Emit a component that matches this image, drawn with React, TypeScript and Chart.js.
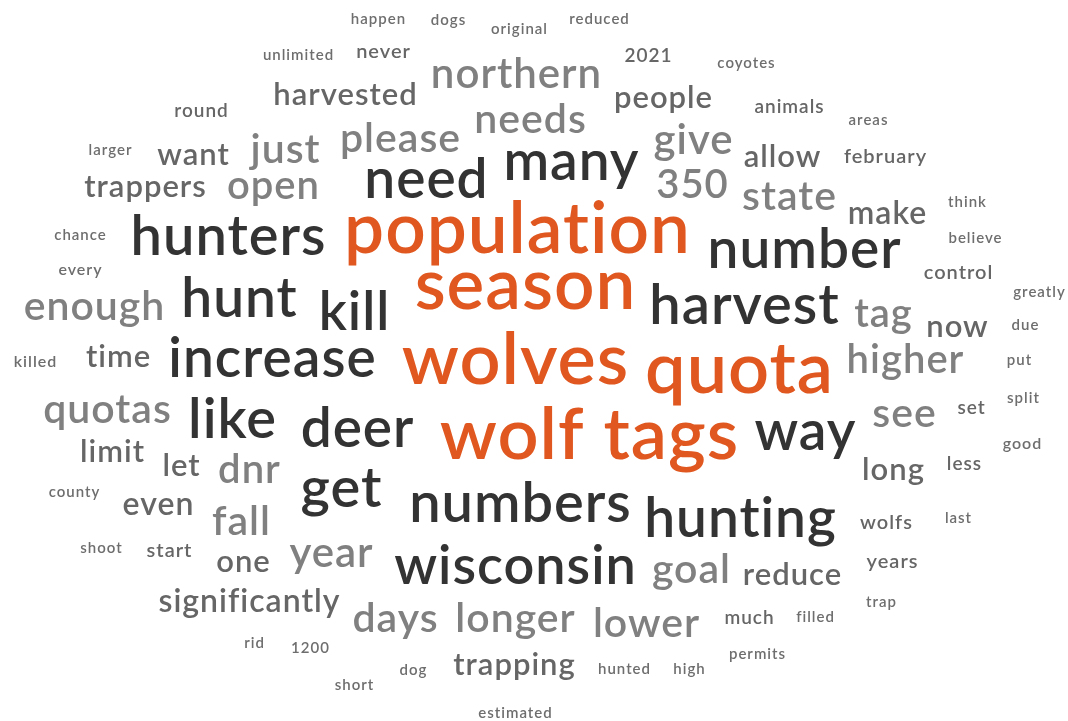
import React, { useEffect, useRef } from "react";
import { Chart, registerables } from "chart.js";

Chart.register(...registerables);

// Word cloud data: word, horizontal position, vertical (baseline) position, weight, colour group
const words = [
  "happen", "dogs", "original", "reduced", "unlimited", "never", "2021", "coyotes",
  "northern", "harvested", "round", "people", "animals", "areas", "needs", "please",
  "just", "want", "larger", "give", "allow", "february", "many", "need",
  "trappers", "open", "350", "state", "think", "make", "chance", "hunters",
  "population", "believe", "number", "every", "control", "enough", "hunt", "kill",
  "season", "harvest", "greatly", "tag", "now", "due", "killed", "time",
  "increase", "wolves", "quota", "higher", "put", "quotas", "like", "deer",
  "split", "set", "see", "way", "wolf tags", "limit", "good", "let",
  "dnr", "less", "long", "county", "even", "fall", "get", "numbers",
  "hunting", "wolfs", "last", "shoot", "start", "one", "year", "wisconsin",
  "goal", "reduce", "years", "significantly", "days", "longer", "lower", "much",
  "filled", "trap", "rid", "1200", "dog", "trapping", "hunted", "high",
  "permits", "short", "estimated",
];

const xPos = [
  378, 448, 519, 599, 298, 383, 648, 746,
  516, 345, 201, 663, 789, 868, 530, 400,
  285, 193, 110, 693, 782, 885, 571, 426,
  145, 273, 692, 789, 967, 887, 80, 228,
  517, 975, 804, 80, 958, 94, 239, 354,
  525, 744, 1039, 883, 957, 1025, 35, 118,
  272, 515, 739, 905, 1019, 107, 232, 357,
  1023, 971, 904, 805, 589, 112, 1022, 181,
  249, 964, 893, 74, 158, 241, 341, 520,
  740, 886, 958, 101, 169, 243, 331, 515,
  691, 792, 892, 249, 395, 515, 646, 749,
  815, 881, 254, 310, 413, 514, 624, 689,
  757, 354, 515,
];

const yPos = [
  24, 25, 34, 24, 60, 58, 62, 68,
  88, 105, 117, 108, 113, 125, 133, 152,
  163, 165, 155, 154, 167, 163, 180, 198,
  197, 199, 198, 210, 207, 224, 240, 255,
  253, 243, 268, 275, 279, 320, 317, 330,
  309, 324, 297, 327, 337, 330, 367, 367,
  377, 384, 393, 373, 365, 423, 438, 447,
  403, 414, 427, 450, 459, 462, 449, 476,
  483, 470, 480, 497, 515, 535, 507, 522,
  537, 529, 523, 553, 557, 572, 567, 584,
  583, 585, 568, 612, 632, 632, 637, 624,
  622, 607, 648, 653, 675, 675, 674, 674,
  659, 690, 718,
];

const weights = [
  15, 15, 15, 15, 15, 20, 19, 15,
  42, 31, 19, 31, 19, 15, 41, 41,
  41, 31, 15, 42, 31, 20, 55, 55,
  31, 40, 40, 41, 15, 32, 15, 56,
  71, 15, 55, 16, 20, 41, 55, 54,
  71, 56, 15, 40, 31, 15, 16, 31,
  55, 72, 72, 40, 15, 41, 56, 55,
  15, 19, 41, 55, 72, 31, 16, 31,
  40, 19, 31, 15, 32, 41, 56, 56,
  55, 20, 15, 15, 20, 31, 42, 54,
  41, 31, 20, 32, 41, 41, 41, 19,
  15, 15, 15, 15, 15, 31, 15, 15,
  15, 15, 15,
];

// 0 = top terms, 1 = frequent, 2 = light grey, 3 = mid grey, 4 = rare
const groups = [
  4, 4, 4, 4, 4, 3, 3, 4,
  2, 3, 3, 3, 3, 4, 2, 2,
  2, 3, 4, 2, 3, 3, 1, 1,
  3, 2, 2, 2, 4, 3, 4, 1,
  0, 4, 1, 4, 3, 2, 1, 1,
  0, 1, 4, 2, 3, 4, 4, 3,
  1, 0, 0, 2, 4, 2, 1, 1,
  4, 3, 2, 1, 0, 3, 4, 3,
  2, 3, 3, 4, 3, 2, 1, 1,
  1, 3, 4, 4, 3, 3, 2, 1,
  2, 3, 3, 3, 2, 2, 2, 3,
  4, 4, 4, 4, 4, 3, 4, 4,
  4, 4, 4,
];

const groupColors = ["#e0571f", "#333333", "#808080", "#666666", "#6e6e6e"];

const wordPlugin = {
  id: "wordText",
  afterDatasetsDraw(chart: any) {
    const ctx = chart.ctx;
    const xs = chart.scales.x;
    const ys = chart.scales.y;
    ctx.save();
    ctx.textAlign = "center";
    ctx.textBaseline = "alphabetic";
    try { (ctx as any).letterSpacing = "1px"; } catch (e) {}
    chart.data.datasets[0].data.forEach((pt: any, i: number) => {
      const px = xs.getPixelForValue(pt.x);
      const py = ys.getPixelForValue(pt.y);
      ctx.font = `600 ${weights[i]}px Lato`;
      ctx.fillStyle = groupColors[groups[i]];
      ctx.fillText(words[i], px + 0.5, py);
    });
    ctx.restore();
  },
};

export default function App() {
  const ref = useRef<HTMLCanvasElement | null>(null);
  useEffect(() => {
    document.body.style.margin = "0";
    const canvas = ref.current;
    if (!canvas) return;
    const chart = new Chart(canvas, {
      type: "scatter",
      data: {
        datasets: [
          {
            data: words.map((_, i) => ({ x: xPos[i], y: yPos[i] })),
            pointRadius: 0,
            pointHoverRadius: 0,
          },
        ],
      },
      options: {
        animation: false,
        responsive: true,
        maintainAspectRatio: false,
        layout: { padding: 0 },
        events: [],
        plugins: { legend: { display: false }, tooltip: { enabled: false } },
        scales: {
          x: { type: "linear", min: 0, max: 1068, display: false },
          y: { type: "linear", min: 0, max: 721, reverse: true, display: false },
        },
      },
      plugins: [wordPlugin],
    });
    if ((document as any).fonts && (document as any).fonts.load) {
      (document as any).fonts.load("600 20px Lato").then(() => chart.update());
    }
    return () => chart.destroy();
  }, []);
  return (
    <div style={{ position: "fixed", left: 0, top: 0, width: 1068, height: 721, background: "#fff" }}>
      <canvas ref={ref} />
    </div>
  );
}
